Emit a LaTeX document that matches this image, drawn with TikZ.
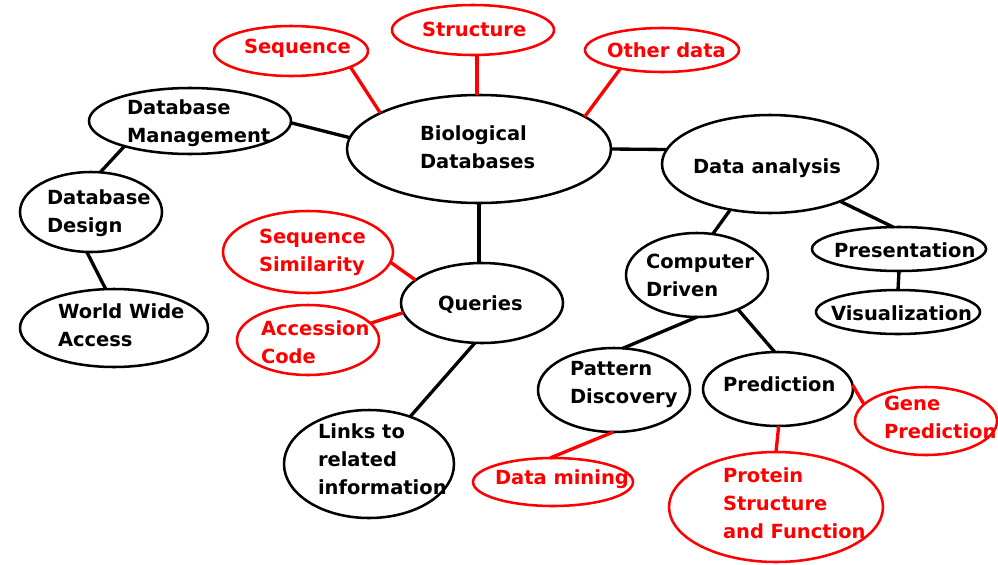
\documentclass[tikz,border=0pt]{standalone}
\usepackage{fontspec}
\setmainfont{DejaVu Sans}
\usetikzlibrary{shapes.geometric}
\definecolor{mapred}{RGB}{255,0,0}
\begin{document}
\begin{tikzpicture}[x=0.75pt, y=-0.75pt,
  oval/.style 2 args={ellipse, draw, line width=1.9pt, inner sep=0pt, outer sep=0pt,
    minimum width={2*#1*0.75pt}, minimum height={2*#2*0.75pt}},
  hot/.style={draw=mapred},
  lbl/.style={anchor=north west, align=left, inner sep=0pt, outer sep=0pt,
    yshift=-1.5pt, font=\fontsize{14.6}{21}\selectfont\bfseries},
  hotlbl/.style={lbl, text=mapred},
  link/.style={line width=2.5pt},
  hotlink/.style={link, draw=mapred}]
\useasboundingbox (0,0) rectangle (998,564);

% ---- ellipses: centre, radii in px ----
\node[oval={77}{25}, hot]  (seq)  at (291,51)  {};
\node[oval={81}{25}, hot]  (str)  at (473,30)  {};
\node[oval={77}{22}, hot]  (oth)  at (662,50)  {};
\node[oval={132}{54}]      (bio)  at (479,149) {};
\node[oval={101}{33}]      (dbm)  at (190,121) {};
\node[oval={71}{40}]       (dbd)  at (91,212)  {};
\node[oval={94}{39}]       (www)  at (114,328) {};
\node[oval={85}{41}, hot]  (ssim) at (308,252) {};
\node[oval={81}{40}]       (qry)  at (482,303) {};
\node[oval={71}{35}, hot]  (acc)  at (308,340) {};
\node[oval={85}{54}]       (lnk)  at (369,464) {};
\node[oval={108}{49}]      (dan)  at (770,164) {};
\node[oval={71}{42}]       (cdr)  at (697,275) {};
\node[oval={87}{22}]       (pres) at (899,249) {};
\node[oval={82}{22}]       (vis)  at (898,312) {};
\node[oval={76}{42}]       (pat)  at (614,390) {};
\node[oval={75}{37}]       (pred) at (778,389) {};
\node[oval={71}{34}, hot]  (gene) at (926,421) {};
\node[oval={80}{24}, hot]  (dmin) at (553,482) {};
\node[oval={107}{55}, hot] (prot) at (776,507) {};

% ---- labels ----
\node[hotlbl] (t-seq)  at (244,37)  {Sequence};
\node[hotlbl] (t-str)  at (422,20)  {Structure};
\node[hotlbl] (t-oth)  at (607,41)  {Other data};
\node[lbl]    (t-bio)  at (420,124) {Biological\\Databases};
\node[lbl]    (t-dbm)  at (127,98)  {Database\\Management};
\node[lbl]    (t-dbd)  at (47,188)  {Database\\Design};
\node[lbl]    (t-www)  at (58,302)  {World Wide\\Access};
\node[hotlbl] (t-ssim) at (259,227) {Sequence\\Similarity};
\node[lbl]    (t-qry)  at (438,294) {Queries};
\node[hotlbl] (t-acc)  at (261,319) {Accession\\Code};
\node[lbl]    (t-lnk)  at (318,422) {Links to\\related\\information};
\node[lbl]    (t-dan)  at (693,157) {Data analysis};
\node[lbl]    (t-cdr)  at (646,252) {Computer\\Driven};
\node[lbl]    (t-pres) at (834,241) {Presentation};
\node[lbl]    (t-vis)  at (831,304) {Visualization};
\node[lbl]    (t-pat)  at (570,359) {Pattern\\Discovery};
\node[lbl]    (t-pred) at (723,375) {Prediction};
\node[hotlbl] (t-gene) at (884,394) {Gene\\Prediction};
\node[hotlbl] (t-dmin) at (495,468) {Data mining};
\node[hotlbl] (t-prot) at (723,466) {Protein\\Structure\\and Function};

% ---- black connectors ----
\draw[link] (dbm.-1) -- (bio.175);
\draw[link] (dbm.201) -- (dbd.77);
\draw[link] (dbd.264) -- (www.102);
\draw[link] (bio.0) -- (dan.172);
\draw[link] (bio.south) -- (bio.south |- qry.north);
\draw[link] (qry.260) -- (lnk.49);
\draw[link] (dan.229) -- (cdr.69);
\draw[link] (dan.332) -- (pres.105);
\draw[link] (pres.south) -- (vis.north);
\draw[link] (cdr.270) -- (pat.78);
\draw[link] (cdr.320) -- (pred.95);

% ---- red connectors ----
\draw[hotlink] (seq.345) -- (bio.160);
\draw[hotlink] (str.279) -- (str.279 |- bio.north);
\draw[hotlink] (oth.204) -- (bio.17);
\draw[hotlink] (ssim.353) -- (qry.161);
\draw[hotlink] (acc.15) -- (qry.187);
\draw[hotlink] (pat.269) -- (dmin.97);
\draw[hotlink] (pred.271) -- (prot.90);
\draw[hotlink] (pred.3) -- (gene.165);
\end{tikzpicture}
\end{document}
